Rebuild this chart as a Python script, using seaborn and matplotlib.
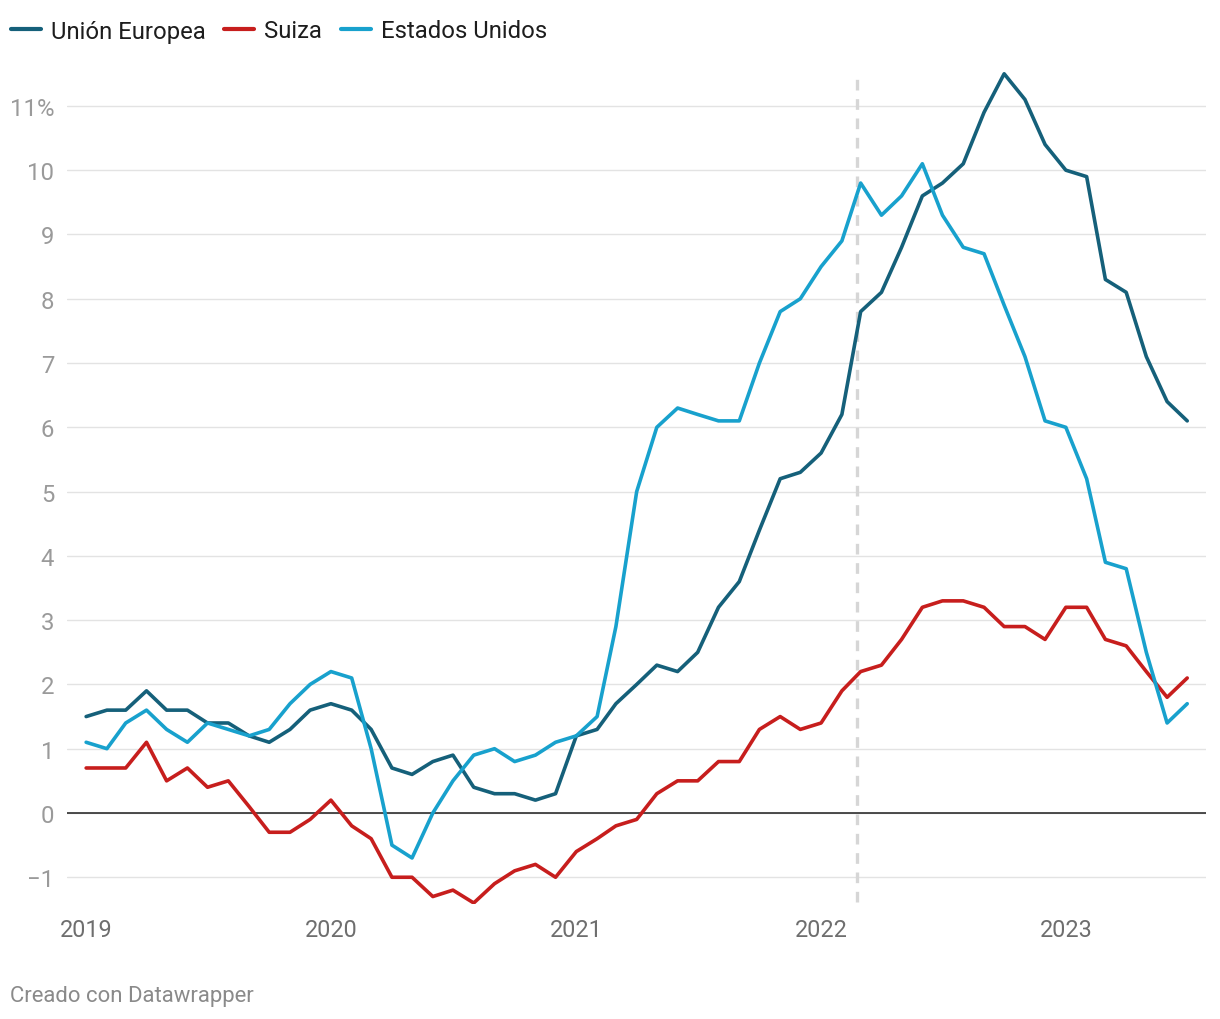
import pandas as pd
import numpy as np
import matplotlib
matplotlib.use("Agg")
import matplotlib.pyplot as plt
import seaborn as sns

# inflación interanual (%), mensual ene 2019 - jul 2023
meses = pd.date_range("2019-01-01", periods=55, freq="MS")

union_europea = [1.5, 1.6, 1.6, 1.9, 1.6, 1.6, 1.4, 1.4, 1.2, 1.1, 1.3, 1.6,
                 1.7, 1.6, 1.3, 0.7, 0.6, 0.8, 0.9, 0.4, 0.3, 0.3, 0.2, 0.3,
                 1.2, 1.3, 1.7, 2.0, 2.3, 2.2, 2.5, 3.2, 3.6, 4.4, 5.2, 5.3,
                 5.6, 6.2, 7.8, 8.1, 8.8, 9.6, 9.8, 10.1, 10.9, 11.5, 11.1, 10.4,
                 10.0, 9.9, 8.3, 8.1, 7.1, 6.4, 6.1]

suiza = [0.7, 0.7, 0.7, 1.1, 0.5, 0.7, 0.4, 0.5, 0.1, -0.3, -0.3, -0.1,
         0.2, -0.2, -0.4, -1.0, -1.0, -1.3, -1.2, -1.4, -1.1, -0.9, -0.8, -1.0,
         -0.6, -0.4, -0.2, -0.1, 0.3, 0.5, 0.5, 0.8, 0.8, 1.3, 1.5, 1.3,
         1.4, 1.9, 2.2, 2.3, 2.7, 3.2, 3.3, 3.3, 3.2, 2.9, 2.9, 2.7,
         3.2, 3.2, 2.7, 2.6, 2.2, 1.8, 2.1]

estados_unidos = [1.1, 1.0, 1.4, 1.6, 1.3, 1.1, 1.4, 1.3, 1.2, 1.3, 1.7, 2.0,
                  2.2, 2.1, 1.0, -0.5, -0.7, 0.0, 0.5, 0.9, 1.0, 0.8, 0.9, 1.1,
                  1.2, 1.5, 2.9, 5.0, 6.0, 6.3, 6.2, 6.1, 6.1, 7.0, 7.8, 8.0,
                  8.5, 8.9, 9.8, 9.3, 9.6, 10.1, 9.3, 8.8, 8.7, 7.9, 7.1, 6.1,
                  6.0, 5.2, 3.9, 3.8, 2.5, 1.4, 1.7]

series = ["Unión Europea", "Suiza", "Estados Unidos"]
colores = ["#15607a", "#c71e1d", "#18a1cd"]
fecha_invasion = pd.Timestamp("2022-02-24")

y_ticks = list(range(-1, 12))
y_labels = ["\u22121"] + [str(v) for v in range(0, 11)] + ["11%"]
x_ticks = pd.to_datetime(["2019-01-01", "2020-01-01", "2021-01-01", "2022-01-01", "2023-01-01"])
x_labels = ["2019", "2020", "2021", "2022", "2023"]

df = pd.concat([
    pd.DataFrame({"fecha": meses, "valor": vals, "serie": nombre})
    for nombre, vals in zip(series, [union_europea, suiza, estados_unidos])
])

sns.set_style("white")
plt.rcParams["font.family"] = ["Roboto", "DejaVu Sans"]

fig = plt.figure(figsize=(12.2, 10.2), dpi=100)
ax = fig.add_axes([66.7 / 1220, 1 - 905 / 1020, (1206 - 66.7) / 1220, 845 / 1020])

sns.lineplot(data=df, x="fecha", y="valor", hue="serie", hue_order=series,
             palette=colores, linewidth=2.6, legend=False, ax=ax,
             solid_joinstyle="round", solid_capstyle="round", zorder=3)

ax.set_xlim(pd.Timestamp("2018-12-03"), pd.Timestamp("2023-07-29"))
ax.set_ylim(-1.416, 11.73)

ax.set_yticks(y_ticks)
ax.set_yticklabels(y_labels)
ax.set_xticks(x_ticks)
ax.set_xticklabels(x_labels)
ax.tick_params(axis="y", length=0, pad=9, labelsize=17.2, labelcolor="#9a9a9a")
ax.tick_params(axis="x", length=0, pad=10, labelsize=16.8, labelcolor="#6e6e6e")
ax.set_xlabel("")
ax.set_ylabel("")

ax.grid(axis="y", color="#e3e3e3", linewidth=1.0, zorder=0)
ax.grid(axis="x", visible=False)
ax.axhline(0, color="#1d1d1d", linewidth=1.1, zorder=2)
ax.axvline(fecha_invasion, ymin=0.002, ymax=0.982, color="#d6d6d6",
           linewidth=2.4, linestyle=(0, (3.2, 2.6)), zorder=1)
sns.despine(ax=ax, left=True, bottom=True)

leg = ax.legend(handles=ax.lines[:3], labels=series, ncol=3, frameon=False,
                loc="center left", bbox_to_anchor=(10.7 / 1220, 1 - 32 / 1020),
                bbox_transform=fig.transFigure, fontsize=17.2,
                handlelength=1.25, handletextpad=0.42, columnspacing=0.8,
                borderpad=0, borderaxespad=0)
for t in leg.get_texts():
    t.set_color("#1d1d1d")
for h in leg.get_lines():
    h.set_linewidth(3)

fig.text(10 / 1220, 1 - 997 / 1020, "Creado con Datawrapper", fontsize=15.9,
         color="#8a8a8a", va="center", ha="left")

fig.savefig("out.png", dpi=100)
